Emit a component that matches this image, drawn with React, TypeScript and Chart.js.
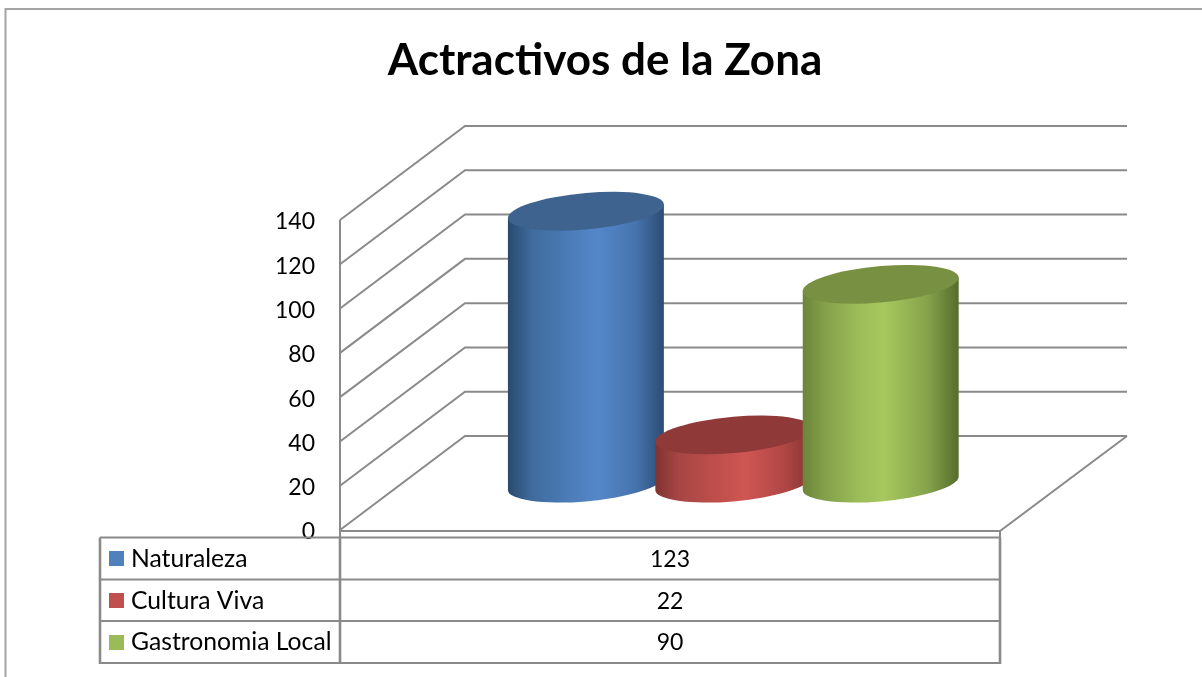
import React, { useEffect, useRef } from "react";
import { Chart, registerables } from "chart.js";

Chart.register(...registerables);

const chartTitle = "Actractivos de la Zona";
const categories = [""];
const seriesNames = ["Naturaleza", "Cultura Viva", "Gastronomia Local"];
const seriesValues = [123, 22, 90];
const legendColors = ["#4f81bd", "#c0504d", "#9bbb59"];
const sideStops = [
  ["#294a6f", "#3f6a9c", "#4c7db8", "#5487c9", "#4673ad", "#2c4c74"],
  ["#7f3331", "#a74644", "#bf4f4c", "#cf5653", "#b04745", "#873533"],
  ["#6c8539", "#84a04a", "#9cbd59", "#a6c85e", "#86a34b", "#566c2c"],
];
const topColors = ["#3e638f", "#8f3a38", "#789042"];
const stopOffsets = [
  [0, 0.15, 0.4, 0.58, 0.82, 1],
  [0, 0.15, 0.4, 0.58, 0.82, 1],
  [0, 0.14, 0.36, 0.52, 0.8, 1],
];

const FONT = "Lato, 'Open Sans', sans-serif";
const LINE = "#8a8a8a";
const DEPTH_X = 125;
const DEPTH_Y = 94;
const TABLE_LEFT = 100;
const TABLE_ROWS = [537.5, 579.5, 621, 663];

const scene = {
  id: "scene",
  beforeDraw(chart: any) {
    const { ctx } = chart;
    ctx.save();
    ctx.fillStyle = "#ffffff";
    ctx.fillRect(0, 0, chart.width, chart.height);
    ctx.strokeStyle = "#a3a3a3";
    ctx.lineWidth = 2;
    ctx.beginPath();
    ctx.moveTo(5.5, chart.height);
    ctx.lineTo(5.5, 9);
    ctx.lineTo(chart.width, 9);
    ctx.stroke();
    ctx.restore();
  },
  beforeDatasetsDraw(chart: any) {
    const { ctx, chartArea, scales } = chart;
    const { left, right, bottom, top } = chartArea;
    const yScale = scales.y;

    // Walls and floor
    ctx.save();
    ctx.strokeStyle = LINE;
    ctx.lineWidth = 2;
    ctx.lineJoin = "miter";
    ctx.beginPath();
    yScale.ticks.forEach((t: any) => {
      const py = yScale.getPixelForValue(t.value);
      ctx.moveTo(left, py);
      ctx.lineTo(left + DEPTH_X, py - DEPTH_Y);
      ctx.lineTo(right + DEPTH_X + 2, py - DEPTH_Y);
    });
    ctx.moveTo(left, top);
    ctx.lineTo(left, bottom + 8);
    ctx.moveTo(left, bottom + 1);
    ctx.lineTo(right, bottom + 1);
    ctx.lineTo(right + DEPTH_X + 2, bottom - DEPTH_Y);
    ctx.moveTo(right, bottom + 1);
    ctx.lineTo(right, bottom + 8);
    ctx.stroke();
    ctx.restore();

    // Cylinders
    chart.data.datasets.forEach((_: any, i: number) => {
      const bar = chart.getDatasetMeta(i).data[0];
      const a = (bar.width * 1.058) / 2;
      const cx = bar.x + DEPTH_X / 2 + 0.8;
      const topY = bar.y - DEPTH_Y / 2 + 0.6;
      const h = bar.base - bar.y - 0.4;
      const shear = -6.7 / a;
      const b = 18.2;
      ctx.save();
      ctx.transform(1, shear, 0, 1, cx, topY);
      const grad = ctx.createLinearGradient(-a, 0, a, 0);
      sideStops[i].forEach((c, k) => grad.addColorStop(stopOffsets[i][k], c));
      ctx.fillStyle = grad;
      ctx.beginPath();
      ctx.moveTo(-a, 0);
      ctx.lineTo(-a, h);
      ctx.ellipse(0, h, a, b, 0, Math.PI, 0, true);
      ctx.lineTo(a, 0);
      ctx.closePath();
      ctx.fill();
      ctx.fillStyle = topColors[i];
      ctx.beginPath();
      ctx.ellipse(0, 0, a, b, 0, 0, Math.PI * 2);
      ctx.fill();
      ctx.restore();
    });

    // Data table
    ctx.save();
    ctx.strokeStyle = LINE;
    ctx.lineWidth = 2;
    ctx.beginPath();
    TABLE_ROWS.forEach((ry) => {
      ctx.moveTo(TABLE_LEFT, ry);
      ctx.lineTo(right, ry);
    });
    ctx.stroke();
    ctx.lineWidth = 2.6;
    ctx.beginPath();
    [TABLE_LEFT, left, right].forEach((cx) => {
      ctx.moveTo(cx, TABLE_ROWS[0]);
      ctx.lineTo(cx, TABLE_ROWS[3] + 1);
    });
    ctx.stroke();
    ctx.textBaseline = "middle";
    seriesNames.forEach((name, i) => {
      const mid = (TABLE_ROWS[i] + TABLE_ROWS[i + 1]) / 2;
      ctx.fillStyle = legendColors[i];
      ctx.fillRect(109, Math.round(mid - 7.5), 15, 15);
      ctx.fillStyle = "#000000";
      ctx.textAlign = "left";
      ctx.font = `24.7px ${FONT}`;
      ctx.fillText(name, 131, mid + 0.5);
      ctx.textAlign = "center";
      ctx.font = `23px ${FONT}`;
      ctx.fillText(String(seriesValues[i]), (left + right) / 2, mid + 1);
    });
    ctx.restore();
    return false;
  },
};

export default function App() {
  const ref = useRef<HTMLCanvasElement>(null);
  useEffect(() => {
    const chart = new Chart(ref.current as HTMLCanvasElement, {
      type: "bar",
      data: {
        labels: categories,
        datasets: seriesNames.map((name, i) => ({
          label: name,
          data: [seriesValues[i]],
          backgroundColor: legendColors[i],
          barPercentage: 1,
          categoryPercentage: 0.67,
        })),
      },
      options: {
        responsive: false,
        animation: false,
        layout: { padding: { left: 210, right: 202, top: 34, bottom: 147 } },
        plugins: {
          legend: { display: false },
          tooltip: { enabled: false },
          title: {
            display: true,
            text: chartTitle,
            color: "#000000",
            font: { family: FONT, size: 44, weight: "bold", lineHeight: 1.2 },
            padding: { top: 0, bottom: 133.2 },
          },
        },
        scales: {
          x: { display: false },
          y: {
            min: 0,
            max: 140,
            afterFit(scale: any) {
              scale.width = 130;
            },
            grid: { display: false, drawTicks: false },
            border: { display: false },
            ticks: {
              stepSize: 20,
              padding: 25,
              labelOffset: 2,
              color: "#000000",
              font: { family: FONT, size: 23 },
            },
          },
        },
      },
      plugins: [scene],
    } as any);
    return () => chart.destroy();
  }, []);
  return (
    <div style={{ position: "absolute", left: 0, top: 0, width: 1202, height: 677 }}>
      <canvas ref={ref} width={1202} height={677} style={{ display: "block" }} />
    </div>
  );
}
